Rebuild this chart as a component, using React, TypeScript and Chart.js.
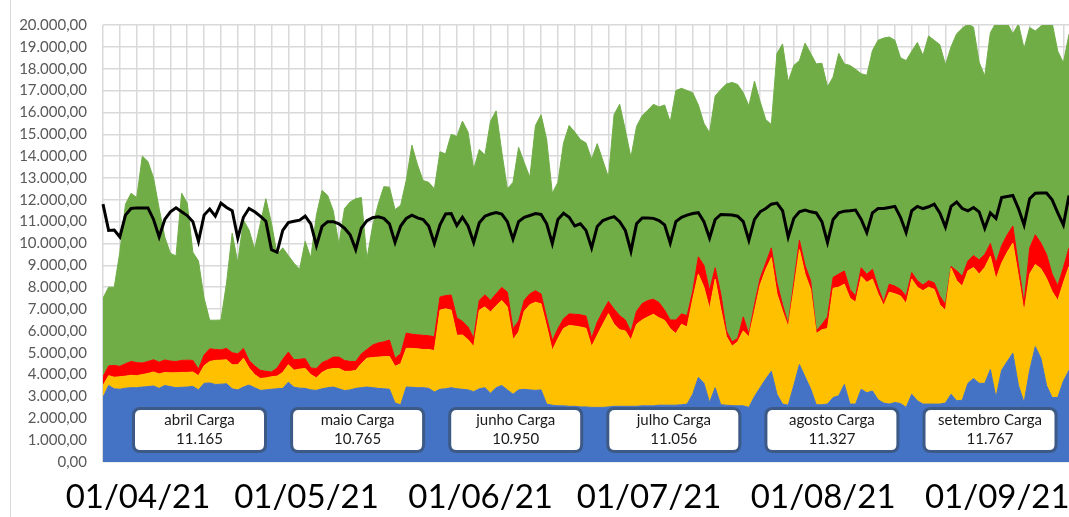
import React, { useEffect, useRef } from "react";
import { Chart, registerables } from "chart.js";

Chart.register(...registerables);

// Daily categories: 01/04/21 onward (173 days visible)
const START_UTC = Date.UTC(2021, 3, 1);
const DAY_COUNT = 173;
const dayLabels: string[] = Array.from({ length: DAY_COUNT }, (_, i) => {
  const d = new Date(START_UTC + i * 86400000);
  const dd = String(d.getUTCDate()).padStart(2, "0");
  const mm = String(d.getUTCMonth() + 1).padStart(2, "0");
  const yy = String(d.getUTCFullYear() % 100).padStart(2, "0");
  return `${dd}/${mm}/${yy}`;
});

// Carga (black line)
const carga = [
  11800, 10600, 10620, 10300, 11300, 11600, 11630, 11630, 11630, 11100,
  10300, 11100, 11450, 11630, 11450, 11280, 11000, 10100, 11300, 11580,
  11250, 11850, 11650, 11500, 10250, 11200, 11600, 11450, 11250, 11020,
  9720, 9600, 10600, 10960, 11020, 11070, 11250, 10900, 9900, 10780,
  11000, 11000, 10900, 10700, 10400, 9720, 10700, 11050, 11180, 11220,
  11150, 10900, 10050, 10800, 11150, 11300, 11170, 11100, 10800, 10000,
  10850, 11350, 11370, 10820, 11200, 10800, 10050, 10950, 11250, 11350,
  11420, 11350, 11000, 10200, 11000, 11200, 11280, 11370, 11330, 10900,
  10000, 11100, 11380, 11200, 10800, 10900, 10600, 9800, 10780, 11050,
  11150, 11230, 11000, 10600, 9650, 10900, 11170, 11170, 11150, 11050,
  10850, 10020, 11000, 11200, 11300, 11370, 11410, 11000, 10250, 11100,
  11330, 11320, 11300, 11250, 11000, 10150, 11100, 11450, 11600, 11800,
  11850, 11500, 10300, 11150, 11450, 11530, 11450, 11400, 11000, 10050,
  11100, 11400, 11480, 11500, 11530, 11100, 10500, 11400, 11600, 11600,
  11650, 11700, 11200, 10500, 11500, 11700, 11600, 11680, 11800, 11400,
  10750, 11700, 11900, 11600, 11500, 11650, 11450, 10700, 11400, 11150,
  12100, 12150, 12200, 11600, 10850, 12050, 12300, 12310, 12310, 12000,
  11400, 10850, 12200,
];

// Cumulative level (top edge) of each coloured band
const greenLevel = [
  7500, 8000, 8000, 9600, 11800, 12300, 12100, 14000, 13750, 13000,
  11600, 10300, 9550, 9430, 12300, 11850, 9600, 9200, 7500, 6490,
  6490, 6500, 8200, 10470, 9120, 11070, 10620, 9750, 10900, 12050,
  10930, 9490, 9800, 9450, 9100, 8820, 10100, 9350, 11300, 12430,
  12200, 11500, 9950, 11600, 11900, 12050, 12100, 9300, 10800, 11800,
  12600, 12580, 11550, 11750, 12900, 14500, 13600, 12880, 12800, 12500,
  14200, 14100, 15000, 14900, 15600, 15100, 13400, 14300, 14050, 15600,
  16070, 14200, 12500, 12800, 14400, 13700, 13030, 15400, 15890, 14760,
  12300, 12800, 14600, 15400, 15100, 14760, 14600, 13860, 14570, 13800,
  13030, 15900, 16370, 15200, 13940, 15360, 15850, 16100, 16370, 16250,
  16340, 15560, 17000, 17100, 17000, 16900, 16340, 15500, 15070, 16750,
  17050, 17300, 17370, 17280, 16900, 16300, 17430, 16500, 15670, 15450,
  18700, 19130, 17400, 18150, 18370, 19170, 18700, 18220, 18250, 17170,
  17620, 18700, 18220, 18150, 17970, 17770, 17700, 18830, 19300, 19400,
  19450, 19300, 18500, 18370, 18800, 19200, 18600, 19500, 19300, 19100,
  18180, 19000, 19600, 19850, 20050, 19900, 18300, 17670, 19650, 20100,
  20100, 20100, 19600, 20050, 18930, 19880, 19730, 19950, 20100, 20100,
  18800, 18270, 19580,
];

const redLevel = [
  3900, 4400, 4420, 4380, 4500, 4600, 4550, 4530, 4600, 4680,
  4570, 4670, 4620, 4600, 4650, 4660, 4650, 4250, 4900, 5180,
  5150, 5130, 5200, 5000, 4950, 5200, 4650, 4400, 4200, 4150,
  4120, 4300, 4700, 5030, 4680, 4700, 4730, 4300, 4280, 4550,
  4660, 4800, 4800, 4650, 4600, 4600, 4950, 5150, 5350, 5450,
  5500, 5580, 4750, 4950, 5900, 5850, 5820, 5800, 5780, 5730,
  7550, 7620, 7640, 6600, 6440, 6180, 5660, 7400, 7650, 7400,
  7700, 7990, 7770, 6100, 6450, 7400, 7700, 7840, 7690, 6600,
  5550, 6100, 6560, 6780, 6760, 6740, 6680, 5660, 6400, 6900,
  7350, 7000, 6700, 6500, 5960, 6900, 7250, 7390, 7450, 7300,
  6950, 6500, 6500, 6780, 6700, 7800, 9390, 9000, 7840, 8890,
  7690, 6000, 5500, 5660, 6640, 5850, 7200, 8400, 9100, 9800,
  8200, 7200, 6300, 8200, 10150, 9000, 8300, 6000, 6300, 6640,
  8450, 8600, 8740, 7900, 7600, 8890, 8590, 8820, 8000, 7310,
  8140, 8050, 7900, 7600, 8670, 8300, 8100, 8300, 8200, 7600,
  7200, 8950, 8750, 8500, 9200, 9450, 9250, 9500, 10000, 9100,
  9900, 10400, 10800, 9000, 7240, 9800, 10400, 10020, 9500, 8600,
  8070, 8900, 9800,
];

const yellowLevel = [
  3500, 3950, 3880, 3900, 3930, 3970, 3950, 4000, 4050, 4120,
  4030, 4100, 4080, 4080, 4100, 4100, 4120, 3950, 4400, 4600,
  4650, 4660, 4680, 4450, 4450, 4750, 4300, 4000, 3820, 3850,
  3900, 3930, 4100, 4450, 4200, 4250, 4280, 4000, 3850, 4100,
  4230, 4280, 4280, 4150, 4150, 4190, 4500, 4750, 4780, 4800,
  4820, 4830, 4380, 4500, 5200, 5200, 5180, 5150, 5150, 5100,
  6950, 7010, 6950, 5800, 5810, 5600, 5280, 6950, 7100, 6860,
  7150, 7390, 7090, 5600, 5950, 6900, 7200, 7310, 7240, 6200,
  5100, 5650, 6110, 6250, 6220, 6180, 6120, 5280, 5800, 6300,
  6790, 6300, 6050, 6000, 5580, 6300, 6500, 6640, 6760, 6600,
  6480, 6100, 5880, 6300, 6180, 7450, 8600, 8000, 7010, 8370,
  7000, 5750, 5300, 5500, 6000, 5730, 6900, 8100, 8800, 9350,
  7700, 6900, 6180, 7900, 9720, 8600, 7900, 5880, 6050, 6110,
  7950, 8000, 8140, 7500, 7310, 8490, 8220, 8370, 7700, 7160,
  7770, 7700, 7600, 7250, 8370, 8000, 7840, 8000, 7900, 7200,
  6940, 8870, 8300, 8050, 8750, 8900, 8600, 8900, 9420, 8370,
  9100, 9600, 10020, 8500, 6860, 8600, 9040, 8850, 8400, 7800,
  7390, 8200, 8950,
];

const blueLevel = [
  2950, 3500, 3350, 3330, 3380, 3400, 3400, 3430, 3450, 3480,
  3370, 3500, 3450, 3400, 3420, 3430, 3460, 3300, 3600, 3620,
  3550, 3560, 3580, 3350, 3300, 3430, 3520, 3400, 3280, 3300,
  3330, 3350, 3370, 3650, 3420, 3380, 3370, 3300, 3280, 3350,
  3400, 3430, 3350, 3270, 3300, 3370, 3400, 3430, 3400, 3370,
  3350, 3330, 2700, 2620, 3430, 3420, 3400, 3400, 3370, 3200,
  3330, 3350, 3400, 3350, 3330, 3300, 3220, 3350, 3400, 3150,
  3400, 3500, 3300, 3100, 3300, 3330, 3300, 3280, 3300, 2650,
  2600, 2570, 2570, 2550, 2550, 2520, 2520, 2500, 2500, 2500,
  2520, 2550, 2550, 2550, 2550, 2550, 2570, 2570, 2570, 2600,
  2600, 2600, 2600, 2620, 2650, 3100, 3870, 3600, 2720, 3400,
  2620, 2600, 2580, 2570, 2570, 2500, 3000, 3400, 3800, 4150,
  3100, 2650, 2600, 3500, 4460, 3900, 3350, 2620, 2620, 2650,
  2950, 3030, 3550, 2650, 2650, 3330, 3170, 3250, 2850, 2700,
  2650, 2720, 2680, 2500, 3100, 2800, 2650, 2650, 2650, 2650,
  2700, 3100, 2800, 2830, 3600, 3820, 3600, 3600, 4230, 2950,
  4200, 4600, 4980, 3500, 2720, 4200, 5280, 4750, 3500, 2950,
  2950, 3700, 4200,
];

// Monthly summary boxes
const boxTitles = ["abril Carga", "maio Carga", "junho Carga", "julho Carga", "agosto Carga", "setembro Carga"];
const boxValues = ["11.165", "10.765", "10.950", "11.056", "11.327", "11.767"];

const formatBR = (v: number) => {
  const n = Math.round(v);
  const s = String(n).replace(/\B(?=(\d{3})+(?!\d))/g, ".");
  return `${s},00`;
};

const framePlugin = {
  id: "frameLine",
  beforeDraw(chart: any) {
    const ctx = chart.ctx;
    ctx.save();
    ctx.fillStyle = "#ffffff";
    ctx.fillRect(0, 0, chart.width, chart.height);
    ctx.strokeStyle = "#d9d9d9";
    ctx.lineWidth = 1;
    ctx.beginPath();
    ctx.moveTo(10.5, 0);
    ctx.lineTo(10.5, chart.height);
    ctx.stroke();
    ctx.restore();
  },
};

const boxesPlugin = {
  id: "monthBoxes",
  afterDraw(chart: any) {
    const ctx = chart.ctx;
    const x0 = 133.5;
    const step = 158.1;
    const w = 132;
    const y = 408.5;
    const h = 43;
    const r = 7;
    ctx.save();
    boxTitles.forEach((title, k) => {
      const x = x0 + k * step;
      ctx.beginPath();
      ctx.moveTo(x + r, y);
      ctx.lineTo(x + w - r, y);
      ctx.quadraticCurveTo(x + w, y, x + w, y + r);
      ctx.lineTo(x + w, y + h - r);
      ctx.quadraticCurveTo(x + w, y + h, x + w - r, y + h);
      ctx.lineTo(x + r, y + h);
      ctx.quadraticCurveTo(x, y + h, x, y + h - r);
      ctx.lineTo(x, y + r);
      ctx.quadraticCurveTo(x, y, x + r, y);
      ctx.closePath();
      ctx.fillStyle = "#ffffff";
      ctx.fill();
      ctx.strokeStyle = "#3d5a87";
      ctx.lineWidth = 3;
      ctx.stroke();
      ctx.fillStyle = "#1a1a1a";
      ctx.font = "15px Lato";
      ctx.textAlign = "center";
      ctx.textBaseline = "middle";
      ctx.fillText(title, x + w / 2, y + 12);
      ctx.fillText(boxValues[k], x + w / 2, y + 31);
    });
    ctx.restore();
  },
};

const CANVAS_W = 1085;
const CANVAS_H = 517;

export default function App() {
  const canvasRef = useRef<HTMLCanvasElement | null>(null);

  useEffect(() => {
    if (!canvasRef.current) return;
    const area = (data: number[], color: string, fill: any) => ({
      data,
      fill,
      backgroundColor: color,
      borderColor: color,
      borderWidth: 1,
      pointRadius: 0,
      tension: 0,
      order: 1,
      clip: 0,
    });
    const chart = new Chart(canvasRef.current, {
      type: "line",
      data: {
        labels: dayLabels,
        datasets: [
          area(blueLevel, "#4472C4", "origin"),
          area(yellowLevel, "#FFC000", "-1"),
          area(redLevel, "#FF0000", "-1"),
          area(greenLevel, "#70AD47", "-1"),
          {
            data: carga,
            fill: false,
            borderColor: "#000000",
            borderWidth: 3,
            pointRadius: 0,
            tension: 0,
            order: 0,
            clip: 2,
          },
        ] as any,
      },
      options: {
        responsive: false,
        animation: false,
        layout: { padding: { left: 0, right: 0, top: 19, bottom: 0 } },
        plugins: { legend: { display: false }, tooltip: { enabled: false } },
        scales: {
          x: {
            type: "category",
            offset: false,
            border: { display: false },
            grid: {
              color: (ctx: any) => (ctx.index % 3 === 0 ? "#d9d9d9" : "rgba(0,0,0,0)"),
              lineWidth: 1.5,
              drawTicks: false,
            },
            ticks: {
              autoSkip: false,
              maxRotation: 0,
              minRotation: 0,
              labelOffset: 35,
              padding: 16,
              color: "#000000",
              font: { family: "Lato", size: 33 },
              callback: (_v: any, i: number) => (dayLabels[i].startsWith("01/") ? dayLabels[i] : ""),
            },
            afterFit: (s: any) => {
              s.height = 55;
            },
          },
          y: {
            min: 0,
            max: 20000,
            border: { display: false },
            grid: { color: "#d9d9d9", lineWidth: 1.5, drawTicks: false },
            ticks: {
              stepSize: 1000,
              padding: 16,
              color: "#595959",
              font: { family: "Lato", size: 15 },
              callback: (v: any) => formatBR(Number(v)),
            },
            afterFit: (s: any) => {
              s.width = 103;
            },
          },
        },
      } as any,
      plugins: [framePlugin, boxesPlugin],
    });
    return () => chart.destroy();
  }, []);

  return (
    <div
      style={{
        position: "fixed",
        left: 0,
        top: 0,
        width: 1069,
        height: 517,
        overflow: "hidden",
        background: "#fff",
      }}
    >
      <canvas ref={canvasRef} width={CANVAS_W} height={CANVAS_H} style={{ display: "block" }} />
    </div>
  );
}
